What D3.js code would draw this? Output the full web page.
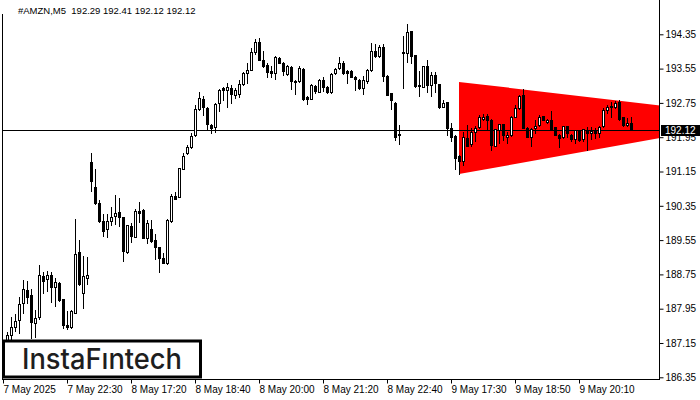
<!DOCTYPE html>
<html><head><meta charset="utf-8">
<script src="https://cdn.jsdelivr.net/npm/d3@7"></script>
<style>
html,body{margin:0;padding:0;background:#fff;}
svg{display:block;}
text{font-family:"Liberation Sans",Arial,sans-serif;}
</style></head>
<body>
<svg id="chart" width="700" height="400"></svg>
<script>
// ---- data (bar index starts at 1) ----
const open = [187.10,187.34,187.52,187.69,188.09,188.39,188.27,187.61,187.75,188.71,188.64,188.74,188.45,188.56,188.18,187.57,187.53,187.86,189.27,188.32,188.67,
191.37,190.78,190.41,190.00,189.80,190.00,190.12,190.21,190.08,189.28,189.88,189.63,190.24,190.25,189.59,189.81,189.55,189.40,189.13,189.01,190.00,190.58,190.55,191.20,191.59,191.72,191.99,192.60,192.84,192.62,192.24,192.18,192.74,193.09,193.05,193.09,192.94,192.96,193.18,193.44,193.52,193.93,194.16,193.74,193.64,193.50,193.44,193.79,193.69,193.43,193.58,193.26,193.25,193.54,192.88,192.84,193.15,193.01,193.29,193.13,193.01,193.44,193.56,193.68,193.50,193.49,193.36,193.29,193.09,193.25,193.52,193.97,193.85,194.05,193.38,192.97,192.74,192.01,
193.91,193.91,194.43,193.87,193.16,193.13,193.60,193.17,193.40,193.19,192.66,192.78,192.16,191.98,191.50,191.40,191.94,191.79,192.06,192.18,192.38,192.45,192.35,191.75,192.12,192.25,191.96,192.00,192.43,192.62,192.94,192.17,191.96,192.17,192.23,192.45,192.30,192.35,192.18,192.00,191.95,192.21,192.00,191.90,192.12,191.90,192.12,192.04,192.12,192.04,192.20,192.59,192.68,192.65,192.78,192.41,192.23,192.29];
const high = [187.40,187.76,187.83,188.22,188.62,188.60,188.41,187.92,188.97,188.81,188.83,188.81,188.66,188.58,188.18,187.90,187.92,190.04,189.55,189.18,189.16,
191.58,191.20,190.49,190.16,190.16,190.33,190.60,190.53,190.08,189.90,189.94,190.27,190.45,190.27,190.02,190.02,189.69,189.40,189.24,190.05,190.63,190.68,191.23,191.58,191.77,192.04,192.70,193.01,192.90,192.65,192.26,192.74,193.07,193.13,193.21,193.17,193.09,193.29,193.48,193.67,194.02,194.24,194.26,193.96,193.69,193.60,193.85,193.81,193.71,193.64,193.61,193.29,193.60,193.56,192.91,193.19,193.17,193.30,193.36,193.15,193.45,193.56,193.81,193.72,193.52,193.52,193.38,193.30,193.38,193.53,194.14,194.12,194.10,194.12,193.40,192.99,192.76,192.23,
194.30,194.59,194.43,193.87,193.50,193.62,193.74,193.48,193.46,193.19,192.82,192.78,192.29,192.00,191.54,192.08,192.24,192.16,192.20,192.47,192.48,192.48,192.37,192.15,192.26,192.25,192.08,192.45,192.70,192.94,193.08,192.18,192.16,192.35,192.47,192.45,192.38,192.55,192.18,192.03,192.21,192.21,192.02,192.12,192.12,192.14,192.18,192.18,192.16,192.20,192.62,192.70,192.76,192.80,192.82,192.43,192.39,192.41];
const low = [187.00,187.22,187.42,187.39,187.84,188.08,187.26,187.28,187.72,188.32,188.37,188.11,188.02,188.14,187.49,187.47,187.49,187.84,188.50,187.96,188.53,
190.70,190.39,189.98,189.65,189.63,189.90,189.93,189.88,189.07,189.24,189.51,189.63,189.98,189.60,189.48,189.51,189.10,188.81,189.02,189.00,189.98,190.51,190.55,191.20,191.55,191.70,191.98,192.59,192.47,192.14,192.04,192.08,192.57,192.82,192.65,192.74,192.86,192.88,193.17,193.21,193.52,193.88,193.74,193.58,193.36,193.35,193.30,193.67,193.40,193.40,193.07,192.96,193.24,192.82,192.73,192.83,192.97,193.00,193.03,192.99,192.99,193.43,193.54,193.43,193.21,193.35,193.04,193.08,192.96,193.22,193.50,193.81,193.81,193.25,192.93,192.60,191.89,191.79,
193.09,193.71,193.69,193.11,192.91,193.11,193.01,192.91,193.01,192.63,192.65,192.00,191.87,191.20,191.09,191.30,191.75,191.75,191.87,192.16,192.35,192.12,191.64,191.75,191.81,191.89,191.82,191.98,192.43,192.60,192.17,191.95,191.75,192.04,192.21,192.34,192.27,192.14,192.00,191.73,191.93,191.95,191.87,191.82,191.85,191.87,191.65,191.90,191.93,191.96,192.18,192.51,192.43,192.62,192.35,192.21,192.20,192.12];
const close = [187.34,187.53,187.66,188.05,188.40,188.23,187.63,187.73,188.74,188.60,188.74,188.46,188.57,188.15,187.56,187.53,187.90,189.23,188.53,188.71,188.74,
190.94,190.41,190.00,189.77,190.00,190.10,190.19,190.08,189.30,189.90,189.65,190.23,190.19,189.60,189.96,189.54,189.38,189.14,189.02,190.02,190.58,190.52,191.23,191.51,191.73,191.98,192.60,192.86,192.66,192.26,192.16,192.73,193.05,193.04,193.11,192.96,193.04,193.18,193.44,193.52,193.93,194.16,193.74,193.60,193.48,193.44,193.83,193.69,193.50,193.60,193.26,193.27,193.57,192.84,192.83,193.17,193.02,193.28,193.11,193.01,193.43,193.53,193.67,193.44,193.44,193.36,193.31,193.09,193.29,193.52,193.96,193.84,194.05,193.37,192.94,192.81,191.96,192.03,
193.93,194.40,193.85,193.15,193.17,193.61,193.17,193.40,193.21,192.65,192.74,192.16,191.96,191.46,191.40,191.95,191.75,192.07,192.16,192.41,192.43,192.34,191.77,192.14,192.25,191.99,192.00,192.43,192.62,192.91,192.17,191.96,192.14,192.21,192.43,192.35,192.35,192.14,192.00,191.94,192.20,192.04,191.90,192.12,191.89,192.14,192.04,192.10,192.04,192.18,192.59,192.65,192.65,192.74,192.37,192.24,192.27,192.12];

const xTickBars = [0,16,32,48,64,80,96,112,128,144];
const xTickLabels = ["7 May 2025","7 May 22:30","8 May 17:20","8 May 18:40","8 May 20:00","8 May 21:20","8 May 22:40","9 May 17:30","9 May 18:50","9 May 20:10"];
const yTicks = [186.35,187.15,187.95,188.75,189.55,190.35,191.15,191.95,192.75,193.55,194.35];
const lastPrice = 192.12;
const title = "#AMZN,M5  192.29 192.41 192.12 192.12";
// symmetrical triangle pattern: [bar, upper, lower]
const triBars = [114, 164.25];
const triUpper = [193.24, 192.69];
const triLower = [191.09, 191.93];
const logoText = "InstaF\u0131ntech";

// ---- drawing ----
const svg = d3.select("#chart");
const x = d3.scaleLinear().domain([0, 164.25]).range([3, 660]);
const y = d3.scaleLinear().domain([186.35, 194.35]).range([377.3, 34.3]);

const bars = open.map((o,k)=>({i:k+1,o:o,h:high[k],l:low[k],c:close[k]}));

svg.append("defs").append("clipPath").attr("id","plot")
  .append("rect").attr("x",3).attr("y",0).attr("width",657).attr("height",379);

const plot = svg.append("g").attr("clip-path","url(#plot)");

// triangle
const triPts = [[triBars[0],triUpper[0]],[triBars[1],triUpper[1]],[triBars[1],triLower[1]],[triBars[0],triLower[0]]];
plot.append("polygon")
  .attr("points", triPts.map(p=>x(p[0])+","+y(p[1])).join(" "))
  .attr("fill","#ff0000");

// last price line
const yl = Math.round(y(lastPrice))+0.5;
plot.append("line").attr("x1",2).attr("x2",660).attr("y1",yl).attr("y2",yl)
  .attr("stroke","#000").attr("stroke-width",1);

// candles
const cg = plot.append("g");
bars.forEach(b=>{
  const cx = Math.round(x(b.i));
  const yh = Math.round(y(b.h)), ylw = Math.round(y(b.l));
  cg.append("line").attr("x1",cx+0.5).attr("x2",cx+0.5).attr("y1",yh).attr("y2",ylw+1)
    .attr("stroke","#000").attr("stroke-width",1);
  const yt = Math.round(y(Math.max(b.o,b.c))), yb = Math.round(y(Math.min(b.o,b.c)));
  if (b.c >= b.o) {
    cg.append("rect").attr("x",cx-0.5).attr("y",yt+0.5).attr("width",2).attr("height",Math.max(1,yb-yt))
      .attr("fill","#fff").attr("stroke","#000").attr("stroke-width",1);
  } else {
    cg.append("rect").attr("x",cx-1).attr("y",yt).attr("width",3).attr("height",Math.max(1,yb-yt+1))
      .attr("fill","#000");
  }
});

// frame
svg.append("line").attr("x1",2.5).attr("x2",2.5).attr("y1",14).attr("y2",380).attr("stroke","#000");
svg.append("line").attr("x1",659.5).attr("x2",659.5).attr("y1",0).attr("y2",380).attr("stroke","#000");
svg.append("line").attr("x1",2).attr("x2",660).attr("y1",379.5).attr("y2",379.5).attr("stroke","#000");

// right axis
const ra = svg.append("g").attr("transform","translate(659.5,0)")
  .call(d3.axisRight(y).tickValues(yTicks).tickSize(4).tickPadding(2).tickFormat(d3.format(".2f")));
ra.select(".domain").remove();
ra.selectAll("line").attr("stroke","#000");
ra.selectAll("text").attr("fill","#000").style("font-size","10px").style("font-family","'Liberation Sans',Arial,sans-serif");

// bottom axis
const ba = svg.append("g").attr("transform","translate(0,379.5)")
  .call(d3.axisBottom(x).tickValues(xTickBars).tickSize(4).tickFormat((d,k)=>xTickLabels[k]));
ba.select(".domain").remove();
ba.selectAll("line").attr("stroke","#000");
ba.selectAll("text").attr("text-anchor","start").attr("dx",0).attr("y",6)
  .attr("fill","#000").style("font-size","10px").style("font-family","'Liberation Sans',Arial,sans-serif");

// last price label
svg.append("rect").attr("x",661).attr("y",Math.round(y(lastPrice))-5).attr("width",39).attr("height",11).attr("fill","#000");
svg.append("text").attr("x",665).attr("y",Math.round(y(lastPrice))+4).attr("fill","#fff")
  .style("font-size","10px").text(d3.format(".2f")(lastPrice));

// title
svg.append("text").attr("x",18).attr("y",14).attr("fill","#000").style("font-size","9.5px")
  .attr("xml:space","preserve").style("white-space","pre").text(title);

// logo
svg.append("rect").attr("x",3.5).attr("y",341).attr("width",197).attr("height",36)
  .attr("fill","#fff").attr("stroke","#000").attr("stroke-width",3);
svg.append("text").attr("x",22).attr("y",369).attr("fill","#1e1e1e")
  .attr("textLength",160).attr("lengthAdjust","spacingAndGlyphs")
  .style("font-family","Inter,'Open Sans',sans-serif").style("font-weight","500").style("font-size","29px")
  .text(logoText);
</script>
</body></html>
